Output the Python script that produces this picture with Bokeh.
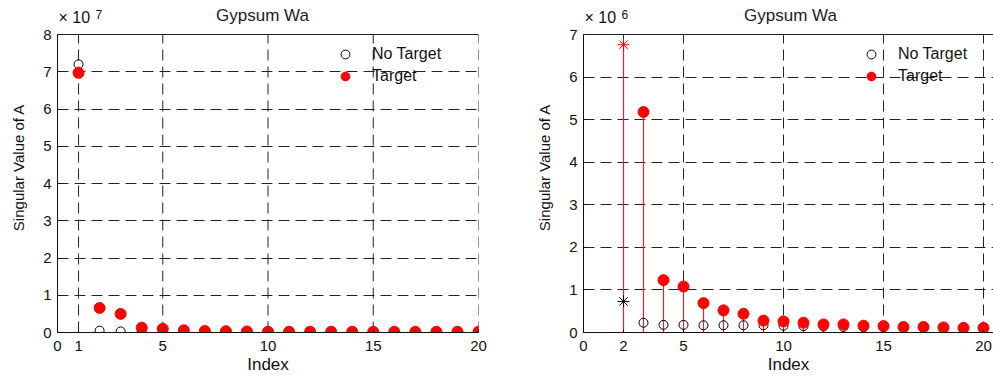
from bokeh.plotting import figure
from bokeh.layouts import row
from bokeh.models import Label, Legend, LegendItem, FixedTicker, Range1d
from bokeh.embed import file_html
from bokeh.resources import INLINE

# ---------------- data ----------------
idx_left = list(range(1, 21))
no_target_left = [7.2, 0.05, 0.03, 0.01, 0.01, 0.01, 0.01, 0.01, 0.01, 0.01,
                  0.01, 0.01, 0.01, 0.01, 0.01, 0.01, 0.01, 0.01, 0.01, 0.01]
target_left = [6.97, 0.66, 0.5, 0.13, 0.1, 0.06, 0.04, 0.035, 0.03, 0.02,
               0.02, 0.02, 0.02, 0.02, 0.02, 0.02, 0.02, 0.02, 0.02, 0.02]

idx_right = list(range(3, 21))
no_target_right = [0.23, 0.18, 0.18, 0.17, 0.17, 0.17, 0.17, 0.16, 0.15, 0.14,
                   0.13, 0.12, 0.12, 0.1, 0.1, 0.09, 0.09, 0.08]
target_right = [5.18, 1.23, 1.08, 0.69, 0.52, 0.44, 0.28, 0.26, 0.23, 0.19,
                0.19, 0.16, 0.15, 0.13, 0.13, 0.12, 0.11, 0.11]
star_idx = [2]
star_no_target = [0.73]
star_target = [6.76]

title_text = "Gypsum Wa"
x_label = "Index"
y_label = "Singular Value of A"
xticks_left = [0, 1, 5, 10, 15, 20]
xticks_right = [0, 2, 5, 10, 15, 20]
yticks_left = [0, 1, 2, 3, 4, 5, 6, 7, 8]
yticks_right = [0, 1, 2, 3, 4, 5, 6, 7]
ymax_left = 8
ymax_right = 7
xmax_left = 20
xmax_right = 20.5
exp_left = "7"
exp_right = "6"

FONT = "Liberation Sans"
RED = "#ff0000"
STEM = "#e02828"
FIG_H = 379
AXIS_TOP = 34      # pixel row of the top of the axes box
AXIS_BOTTOM = 332  # pixel row of y = 0
CANVAS_TOP = 2     # frame starts here so that title text can live in it
AXES_H = AXIS_BOTTOM - AXIS_TOP


def make_fig(width, border_left, border_right, xmax, ymax):
    ytop = ymax * (AXIS_BOTTOM - CANVAS_TOP) / AXES_H
    p = figure(width=width, height=FIG_H, output_backend="svg",
               toolbar_location=None, title_location=None,
               x_range=Range1d(0, xmax), y_range=Range1d(0, ytop))
    p.min_border_left = border_left
    p.min_border_right = border_right
    p.min_border_top = CANVAS_TOP
    p.min_border_bottom = FIG_H - AXIS_BOTTOM
    p.outline_line_color = None
    p.background_fill_color = "white"
    p.border_fill_color = "white"
    return p


def style(p, xticks, yticks, xmax, ymax):
    for ax in (p.xaxis[0], p.yaxis[0]):
        ax.axis_label_text_font = FONT
        ax.axis_label_text_font_style = "normal"
        ax.axis_label_text_color = "#111111"
        ax.major_label_text_font = FONT
        ax.major_label_text_font_size = "15px"
        ax.major_label_text_color = "#111111"
        ax.axis_line_color = "#111111"
        ax.major_tick_line_color = "#111111"
        ax.major_tick_in = 3
        ax.major_tick_out = 0
        ax.minor_tick_line_color = None
    p.xaxis[0].ticker = FixedTicker(ticks=xticks)
    p.yaxis[0].ticker = FixedTicker(ticks=yticks)
    p.yaxis[0].bounds = (0, ymax)
    p.xaxis[0].axis_label = x_label
    p.xaxis[0].axis_label_text_font_size = "17px"
    p.xaxis[0].axis_label_standoff = 1
    p.xaxis[0].major_label_standoff = 8
    p.yaxis[0].axis_label = y_label
    p.yaxis[0].axis_label_text_font_size = "15px"
    p.yaxis[0].axis_label_standoff = 13
    p.yaxis[0].major_label_standoff = 6
    # horizontal grid from the y ticks (spans the full width)
    g = p.ygrid[0]
    g.grid_line_color = "#222222"
    g.grid_line_dash = "11 6"
    g.grid_line_width = 1
    # vertical grid lines, limited to the axes box height
    p.xgrid[0].visible = False
    gx = [t for t in xticks if t > 0]
    p.segment(x0=gx, y0=[0] * len(gx), x1=gx, y1=[ymax] * len(gx),
              line_color="#222222", line_dash="11 6", line_width=1,
              level="underlay")
    # top edge of the axes box
    p.segment(x0=[0], y0=[ymax], x1=[xmax], y1=[ymax],
              line_color="#222222", line_width=1)


def add_legend(p, r_nt, r_t):
    leg = Legend(items=[LegendItem(label="No Target", renderers=[r_nt]),
                        LegendItem(label="Target", renderers=[r_t])],
                 location=(277, 245), padding=0, margin=0, spacing=0,
                 glyph_width=22, glyph_height=22, label_height=22,
                 label_standoff=16, background_fill_alpha=0,
                 border_line_color=None, label_text_font=FONT,
                 label_text_font_size="16px", label_text_color="#111111")
    p.add_layout(leg)


def add_texts(p, exp, title_x):
    top = AXIS_BOTTOM
    p.add_layout(Label(x=title_x, y=top - 15, x_units="screen", y_units="screen",
                       text=title_text, text_font=FONT, text_font_size="17px",
                       text_align="center", text_baseline="middle",
                       text_color="#222222"))
    p.add_layout(Label(x=1, y=top - 25, x_units="screen", y_units="screen",
                       text="× 10", text_font=FONT, text_font_size="16px",
                       text_baseline="bottom", text_color="#111111"))
    p.add_layout(Label(x=38, y=top - 18, x_units="screen", y_units="screen",
                       text=exp, text_font=FONT, text_font_size="12px",
                       text_baseline="bottom", text_color="#111111"))


# ---------------- left figure ----------------
p1 = make_fig(500, 57, 22, xmax_left, ymax_left)
style(p1, xticks_left, yticks_left, xmax_left, ymax_left)
r_nt1 = p1.scatter(idx_left, no_target_left, marker="circle", size=9,
                   fill_color=None, line_color="black", line_width=1)
r_t1 = p1.scatter(idx_left, target_left, marker="circle", size=11,
                  fill_color=RED, line_color=RED)
add_legend(p1, r_nt1, r_t1)
add_texts(p1, exp_left, 205)

# ---------------- right figure ----------------
p2 = make_fig(493, 83, 0, xmax_right, ymax_right)
style(p2, xticks_right, yticks_right, xmax_right, ymax_right)
p2.segment(x0=star_idx, y0=[0] * len(star_idx), x1=star_idx, y1=star_target,
           line_color=STEM, line_width=1.2)
p2.segment(x0=idx_right, y0=[0] * len(idx_right), x1=idx_right, y1=target_right,
           line_color=STEM, line_width=1.2)
r_nt2 = p2.scatter(idx_right, no_target_right, marker="circle", size=9,
                   fill_color=None, line_color="black", line_width=1)
p2.scatter(star_idx, star_no_target, marker="asterisk", size=12,
           line_color="black", line_width=1)
r_t2 = p2.scatter(idx_right, target_right, marker="circle", size=11,
                  fill_color=RED, line_color=RED)
p2.scatter(star_idx, star_target, marker="asterisk", size=12,
           line_color=RED, line_width=1)
add_legend(p2, r_nt2, r_t2)
add_texts(p2, exp_right, 207)

layout = row(p1, p2)
open("out.html", "w").write(file_html(layout, INLINE))
